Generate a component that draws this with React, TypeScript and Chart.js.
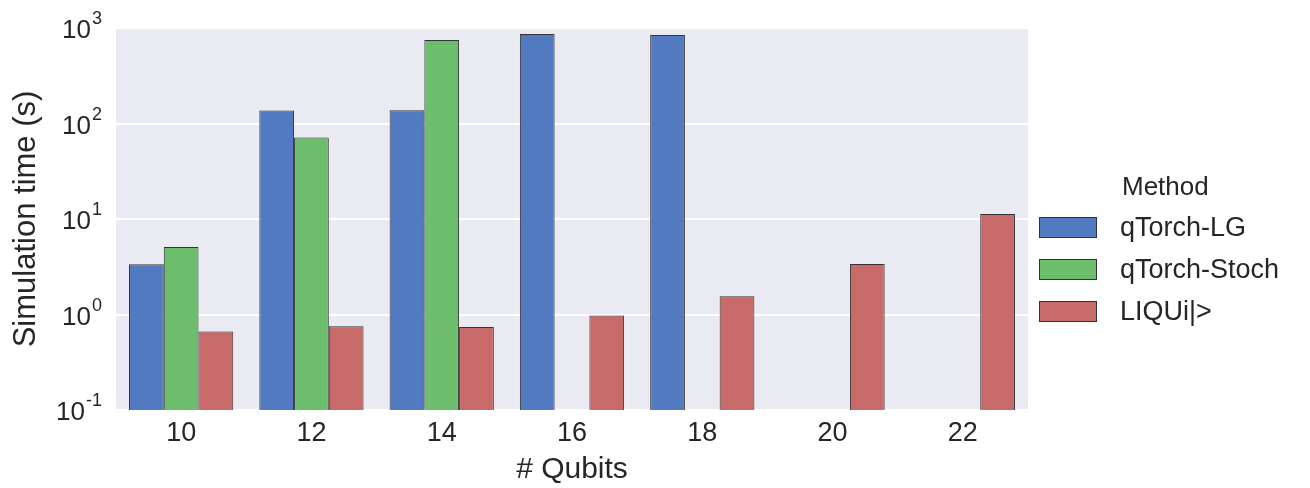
import React, { useEffect, useRef } from 'react';
import { Chart, registerables } from 'chart.js';

Chart.register(...registerables);

const categories = ['10', '12', '14', '16', '18', '20', '22'];
const qtorchLG = [3.35, 137, 138, 866, 845, null, null];
const qtorchStoch = [5.1, 71.5, 750, null, null, null, null];
const liqui = [0.665, 0.755, 0.74, 0.976, 1.55, 3.37, 11.3];
const seriesNames = ['qTorch-LG', 'qTorch-Stoch', 'LIQUi|>'];
const seriesColors = ['#527AC0', '#6DBE6C', '#C86A6A'];
const yTickValues = [0.1, 1, 10, 100, 1000];
const yTickBase = '10';
const yTickExponents = ['-1', '0', '1', '2', '3'];
const legendTitle = 'Method';
const xTitle = '# Qubits';
const yTitle = 'Simulation time (s)';

const FONT = '"Liberation Sans", Arial, sans-serif';
const TEXT = '#262626';

const bgPlugin = {
  id: 'bgPlugin',
  beforeDraw(chart: any) {
    const { ctx, chartArea } = chart;
    ctx.save();
    ctx.fillStyle = '#EAEAF2';
    ctx.fillRect(chartArea.left, chartArea.top, chartArea.right - chartArea.left, chartArea.bottom - chartArea.top);
    ctx.restore();
  },
};

const yTickPlugin = {
  id: 'yTickPow',
  afterDraw(chart: any) {
    const { ctx } = chart;
    const scale = chart.scales.y;
    const right = scale.right - 14;
    ctx.save();
    ctx.fillStyle = TEXT;
    ctx.textBaseline = 'alphabetic';
    ctx.textAlign = 'right';
    yTickValues.forEach((v, i) => {
      const py = scale.getPixelForValue(v);
      ctx.font = `18px ${FONT}`;
      const exp = yTickExponents[i];
      const ew = ctx.measureText(exp).width;
      ctx.fillText(exp, right, py - 4);
      ctx.font = `26px ${FONT}`;
      ctx.fillText(yTickBase, right - ew - 1, py + 10);
    });
    ctx.restore();
  },
};

const legendPlugin = {
  id: 'sideLegend',
  afterDraw(chart: any) {
    const { ctx } = chart;
    ctx.save();
    ctx.fillStyle = TEXT;
    ctx.textBaseline = 'middle';
    ctx.textAlign = 'left';
    ctx.font = `26px ${FONT}`;
    ctx.fillText(legendTitle, 1122, 188);
    chart.data.datasets.forEach((ds: any, i: number) => {
      const cy = 227.5 + i * 42;
      ctx.fillStyle = ds.backgroundColor;
      ctx.fillRect(1039, cy - 10.5, 58, 21);
      ctx.strokeStyle = '#333333';
      ctx.lineWidth = 1;
      ctx.strokeRect(1039.5, cy - 10, 57, 20);
      ctx.fillStyle = TEXT;
      ctx.font = `27px ${FONT}`;
      ctx.fillText(ds.label, 1120, cy + 1);
    });
    ctx.restore();
  },
};

export default function App() {
  const ref = useRef<HTMLCanvasElement | null>(null);
  useEffect(() => {
    if (!ref.current) return;
    const datasetsValues = [qtorchLG, qtorchStoch, liqui];
    const chart = new Chart(ref.current, {
      type: 'bar',
      data: {
        labels: categories,
        datasets: datasetsValues.map((vals, i) => ({
          label: seriesNames[i],
          data: vals as any,
          backgroundColor: seriesColors[i],
          borderColor: '#333333',
          borderWidth: 1,
          categoryPercentage: 0.8,
          barPercentage: 1.0,
        })),
      },
      options: {
        responsive: false,
        animation: false,
        layout: { padding: { top: 28, right: 282, left: 0, bottom: 0 } },
        plugins: {
          legend: { display: false },
          tooltip: { enabled: false },
        },
        scales: {
          x: {
            grid: { display: false, drawTicks: false },
            border: { display: false },
            ticks: { color: TEXT, font: { family: FONT, size: 27 }, padding: 7 },
            title: { display: true, text: xTitle, color: TEXT, font: { family: FONT, size: 30 }, padding: { top: 0, bottom: 0 } },
            afterFit(scale: any) { scale.height = 78; },
          },
          y: {
            type: 'logarithmic',
            min: 0.1,
            max: 1000,
            grid: { color: '#FFFFFF', lineWidth: 2, drawTicks: false },
            border: { display: false },
            afterBuildTicks(scale: any) {
              scale.ticks = yTickValues.map((v) => ({ value: v }));
            },
            ticks: { display: false },
            title: { display: true, text: yTitle, color: TEXT, font: { family: FONT, size: 31 }, padding: { top: 8, bottom: 0 } },
            afterFit(scale: any) { scale.width = 116; },
          },
        },
      },
      plugins: [bgPlugin, yTickPlugin, legendPlugin],
    });
    return () => chart.destroy();
  }, []);
  return (
    <div style={{ position: 'absolute', left: 0, top: 0, width: 1310, height: 488, background: '#fff' }}>
      <canvas ref={ref} width={1310} height={488} />
    </div>
  );
}
